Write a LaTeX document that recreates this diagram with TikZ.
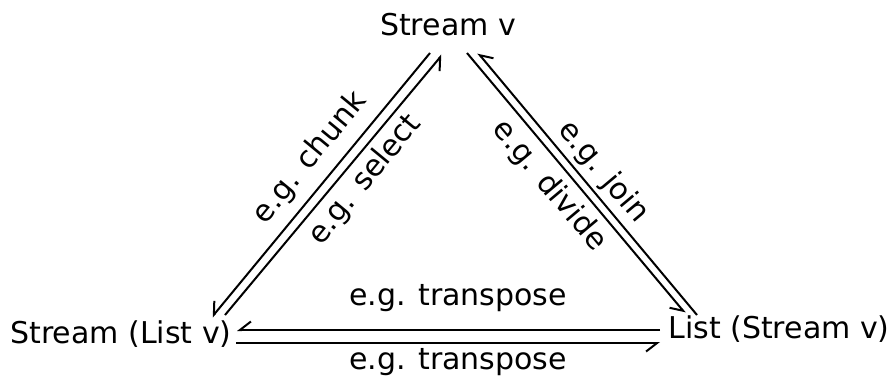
\documentclass[tikz,border=0pt]{standalone}
\usepackage{fontspec}
\setmainfont{DejaVu Sans}
\usetikzlibrary{arrows.meta,calc}
\begin{document}
\begin{tikzpicture}[x=1pt,y=-1pt,
  lbl/.style={inner sep=0pt,font=\fontsize{30}{35}\selectfont},
  conn/.style={line width=2pt,-{Straight Barb[harpoon,swap,length=11pt,width=17pt,line width=2pt]}}]
\useasboundingbox (0,0) rectangle (890,378);
\node[lbl] (sv) at (448,25) {Stream v};
\node[lbl] (slv) at (121,334) {Stream (List v)};
\node[lbl] (lsv) at (779,329) {List (Stream v)};
% left diagonal
\draw[conn] ($(sv)+(-18,28)$) -- ($(slv)+(91,-17)$);
\draw[conn] ($(slv)+(104,-19)$) -- ($(sv)+(-6,30)$);
% right diagonal
\draw[conn] ($(sv)+(19,28)$) -- ($(lsv)+(-94,-16)$);
\draw[conn] ($(lsv)+(-82,-14)$) -- ($(sv)+(30,28)$);
% bottom
\draw[conn] ($(lsv)+(-119,1)$) -- ($(slv)+(116,-4)$);
\draw[conn] ($(slv)+(115,9)$) -- ($(lsv)+(-119,14)$);
% labels
\node[lbl,rotate=50.5] (lchunk) at (310,158) {e.g. chunk};
\node[lbl,rotate=50.5] (lselect) at (365,180) {e.g. select};
\node[lbl,rotate=-50] (ljoin) at (603,172) {e.g. join};
\node[lbl,rotate=-50] (ldivide) at (549,186) {e.g. divide};
\node[lbl] (ltop) at (458,298) {e.g. transpose};
\node[lbl] (lbot) at (458,362) {e.g. transpose};
\end{tikzpicture}
\end{document}
